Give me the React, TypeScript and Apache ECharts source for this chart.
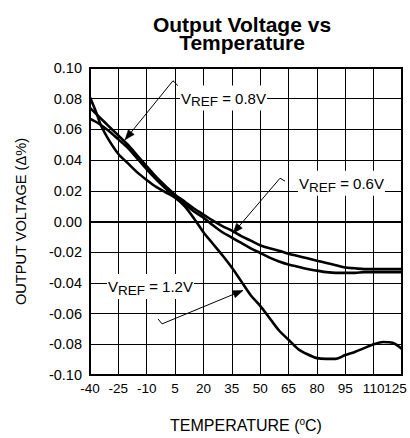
import React, { useEffect, useRef } from "react";
import * as echarts from "echarts";

// ---- data (temperature in °C, output voltage change in %) ----
const xTickLabels = ["-40", "-25", "-10", "5", "20", "35", "50", "65", "80", "95", "110", "125"];

const temps12 = [-40, -37, -34, -30, -25, -20, -15, -10, -5, 0, 5, 10, 15, 20, 25, 30, 35, 40, 45, 50, 55, 60, 65, 70, 75, 80, 85, 90, 95, 100, 105, 110, 115, 120, 125];
const vref12 = [0.081, 0.072, 0.062, 0.053, 0.044, 0.038, 0.032, 0.027, 0.0225, 0.019, 0.0155, 0.010, 0.002, -0.007, -0.0145, -0.022, -0.030, -0.039, -0.048, -0.055, -0.063, -0.071, -0.077, -0.083, -0.0865, -0.089, -0.0895, -0.0895, -0.087, -0.085, -0.0825, -0.080, -0.0785, -0.079, -0.083];

const temps = [-40, -35, -30, -25, -20, -15, -10, -5, 0, 5, 10, 15, 20, 25, 30, 35, 40, 45, 50, 55, 60, 65, 70, 75, 80, 85, 90, 95, 100, 105, 110, 115, 120, 125];
const vref06 = [0.074, 0.068, 0.062, 0.056, 0.050, 0.043, 0.036, 0.029, 0.023, 0.0175, 0.013, 0.0085, 0.0045, 0.0005, -0.003, -0.006, -0.0095, -0.0125, -0.0155, -0.0175, -0.019, -0.021, -0.0225, -0.024, -0.0255, -0.027, -0.0285, -0.030, -0.0305, -0.031, -0.031, -0.031, -0.031, -0.031];
const vref08 = [0.067, 0.0635, 0.059, 0.0535, 0.048, 0.041, 0.034, 0.0275, 0.0215, 0.0165, 0.0115, 0.0065, 0.0025, -0.0025, -0.007, -0.0105, -0.014, -0.0175, -0.0205, -0.0235, -0.026, -0.028, -0.0295, -0.031, -0.032, -0.033, -0.0335, -0.0335, -0.0335, -0.033, -0.033, -0.033, -0.033, -0.033];

// annotations: label anchor (left, middle) and leader polyline ending at arrow tip, in data units
const annoLabels = ["0.8V", "0.6V", "1.2V"];
const annoAnchors: [number, number][] = [[7.6, 0.0805], [70, 0.025], [-31, -0.0423]];
const annoLeaders: [number, number][][] = [
  [[6.5, 0.0885], [3.9, 0.0917], [-21.5, 0.0532]],
  [[63.1, 0.0263], [60.5, 0.0282], [35.6, -0.0077]],
  [[-4, -0.0635], [-1.9, -0.0667], [40.9, -0.0449]],
];

const T0 = -40;
const FONT = "'Liberation Sans', Arial, sans-serif";

const toPairs = (ts: number[], vs: number[]) => ts.map((t, i) => [t - T0, vs[i]]);

export default function App() {
  const ref = useRef<HTMLDivElement>(null);
  useEffect(() => {
    if (!ref.current) return;
    const chart = echarts.init(ref.current, undefined, { renderer: "svg" });
    const lineSeries = (name: string, data: number[][]) => ({
      name,
      type: "line",
      data,
      smooth: 0.3,
      showSymbol: false,
      lineStyle: { color: "#000", width: 2.6 },
      z: 5,
    });
    const labelBase = { fontFamily: FONT, fontSize: 13.5, color: "#000", margin: 6 };
    const lastIdx = xTickLabels.length - 1;
    chart.setOption({
      animation: false,
      backgroundColor: "#fff",
      title: {
        text: "Output Voltage vs\nTemperature",
        left: 237,
        top: 11,
        textAlign: "center",
        textStyle: { fontFamily: FONT, fontWeight: "bold", fontSize: 21, lineHeight: 17.5, color: "#000" },
      },
      grid: { left: 90, right: 8, top: 68, bottom: 58, show: true, borderColor: "#000", borderWidth: 2 },
      xAxis: [
        {
          type: "value",
          min: 0,
          max: 165,
          interval: 15,
          name: "TEMPERATURE ({sup|o}C)",
          nameLocation: "middle",
          nameGap: 41,
          nameTextStyle: {
            fontFamily: FONT,
            fontSize: 16,
            color: "#000",
            rich: { sup: { fontFamily: FONT, fontSize: 10, color: "#000", padding: [0, 0, 8, 0] } },
          },
          axisLine: { show: true, lineStyle: { color: "#000", width: 2 } },
          axisTick: { show: false },
          splitLine: { show: true, lineStyle: { color: "#000", width: 1 } },
          axisLabel: {
            ...labelBase,
            showMinLabel: true,
            showMaxLabel: false,
            formatter: (v: number) => xTickLabels[Math.round(v / 15)] ?? "",
          },
        },
        {
          // second scale on the same grid, only to pull the last tick label inside the window
          type: "value",
          position: "bottom",
          min: 0,
          max: 165,
          interval: 15,
          axisLine: { show: false },
          axisTick: { show: false },
          splitLine: { show: false },
          axisLabel: {
            ...labelBase,
            showMaxLabel: true,
            padding: [0, 13, 0, 0],
            formatter: (v: number) => (Math.round(v / 15) === lastIdx ? xTickLabels[lastIdx] : ""),
          },
        },
      ],
      yAxis: {
        type: "value",
        min: -0.1,
        max: 0.1,
        interval: 0.02,
        name: "OUTPUT VOLTAGE (\u0394%)",
        nameLocation: "middle",
        nameGap: 62,
        nameTextStyle: { fontFamily: FONT, fontSize: 14.6, color: "#000" },
        axisLine: { show: true, lineStyle: { color: "#000", width: 2 } },
        axisTick: { show: false },
        splitLine: { show: true, lineStyle: { color: "#000", width: 1 } },
        axisLabel: {
          fontFamily: FONT,
          fontSize: 14.5,
          color: "#000",
          margin: 8,
          formatter: (v: number) => (Math.abs(v) < 1e-9 ? "0.00" : v.toFixed(2)),
        },
      },
      series: [
        lineSeries("VREF = 1.2V", toPairs(temps12, vref12)),
        lineSeries("VREF = 0.6V", toPairs(temps, vref06)),
        lineSeries("VREF = 0.8V", toPairs(temps, vref08)),
      ],
    });

    const px = (p: [number, number]) => chart.convertToPixel({ gridIndex: 0 }, [p[0] - T0, p[1]]) as number[];
    const graphics: any[] = [];
    annoLabels.forEach((lab, i) => {
      const pts = annoLeaders[i].map(px);
      graphics.push({
        type: "polyline",
        shape: { points: pts },
        style: { stroke: "#000", lineWidth: 1, fill: null },
        z: 10,
      });
      const tip = pts[pts.length - 1];
      const prev = pts[pts.length - 2];
      const dx = tip[0] - prev[0];
      const dy = tip[1] - prev[1];
      const len = Math.hypot(dx, dy);
      const ux = dx / len, uy = dy / len;
      const L = 10, W = 3.8;
      const bx = tip[0] - ux * L, by = tip[1] - uy * L;
      graphics.push({
        type: "polygon",
        shape: { points: [tip, [bx - uy * W, by + ux * W], [bx + uy * W, by - ux * W]] },
        style: { fill: "#000", stroke: "#000", lineWidth: 0.5 },
        z: 11,
      });
      const a = px(annoAnchors[i]);
      graphics.push({
        type: "text",
        x: a[0],
        y: a[1],
        z: 12,
        style: {
          text: `{v|V}{s|REF}{v| = ${lab}}`,
          align: "left",
          verticalAlign: "middle",
          backgroundColor: "#fff",
          padding: [3, 1, 2, 1],
          fill: "#000",
          rich: {
            v: { fontFamily: FONT, fontSize: 15, fill: "#000", lineHeight: 20, verticalAlign: "middle" },
            s: { fontFamily: FONT, fontSize: 13.5, fill: "#000", lineHeight: 20, verticalAlign: "middle", padding: [7, 0, 0, 0] },
          },
        },
      });
    });
    chart.setOption({ graphic: graphics });

    return () => chart.dispose();
  }, []);
  return <div ref={ref} style={{ position: "fixed", left: 0, top: 0, width: 410, height: 438 }} />;
}
